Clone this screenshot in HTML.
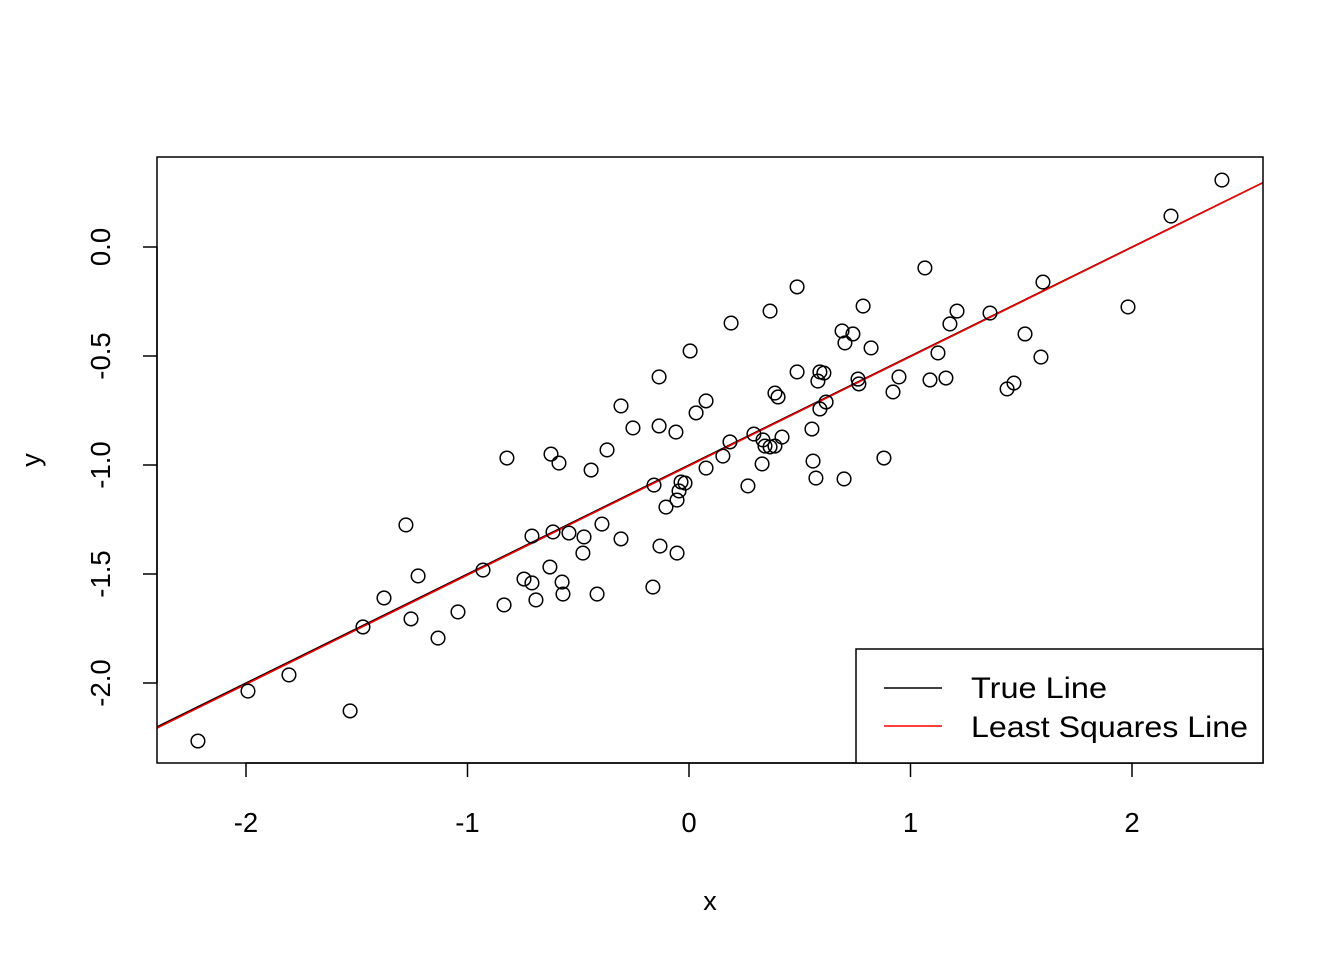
<!DOCTYPE html>
<html><head><meta charset="utf-8"><style>
html,body{margin:0;padding:0;background:#fff}
svg{display:block;font-family:"Liberation Sans",Arial,sans-serif}
</style></head><body>
<svg id="chart" width="1344" height="960" viewBox="0 0 1344 960" xmlns="http://www.w3.org/2000/svg">
<defs><clipPath id="plotclip"><rect x="157" y="157" width="1106" height="606"/></clipPath></defs>
<rect width="1344" height="960" fill="#fff"/>
<g id="axes"></g>
<g id="lines" clip-path="url(#plotclip)"></g>
<g id="points"></g>
<rect x="157" y="157" width="1106" height="606" fill="none" stroke="#000" stroke-width="1.5"/>
<text x="710" y="910" font-size="27" text-anchor="middle">x</text>
<text transform="translate(40,460) rotate(-90)" font-size="27" text-anchor="middle">y</text>
<g>
<rect x="856" y="649" width="407" height="114" fill="#fff" stroke="#000" stroke-width="1.5"/>
<line x1="884" y1="688" x2="942" y2="688" stroke="#000" stroke-width="1.5"/>
<text x="971" y="698" font-size="30" textLength="136" lengthAdjust="spacingAndGlyphs">True Line</text>
<line x1="884" y1="726" x2="942" y2="726" stroke="#f00" stroke-width="1.5"/>
<text x="971" y="737" font-size="30" textLength="277" lengthAdjust="spacingAndGlyphs">Least Squares Line</text>
</g>
</svg>
<script>
const xVals=[2.406,2.176,1.598,1.982,1.065,1.210,1.178,1.359,1.517,1.589,1.436,1.467,1.160,1.124,1.088,0.786,0.691,0.740,0.704,0.822,0.488,0.366,0.190,0.005,-0.135,-0.307,-0.253,-0.135,-0.059,0.032,0.077,0.388,0.402,0.591,0.609,0.582,0.488,0.763,0.767,0.948,0.921,0.619,0.591,0.555,0.420,0.293,0.334,0.185,0.388,0.366,0.343,0.153,0.077,0.330,0.560,0.573,0.700,0.880,0.266,-0.018,-0.036,-0.045,-0.054,-0.104,-0.158,-0.370,-0.442,-0.587,-0.623,-0.822,-0.131,-0.054,-0.307,-0.393,-0.474,-0.479,-0.542,-0.614,-0.709,-0.930,-0.628,-0.745,-0.709,-0.573,-0.569,-0.415,-0.691,-0.163,-0.835,-1.043,-1.133,-1.223,-1.255,-1.278,-1.377,-1.472,-1.806,-1.991,-1.530,-2.217];
const yVals=[0.307,0.142,-0.161,-0.275,-0.096,-0.294,-0.353,-0.303,-0.399,-0.505,-0.651,-0.624,-0.601,-0.486,-0.610,-0.271,-0.385,-0.399,-0.440,-0.463,-0.183,-0.294,-0.349,-0.477,-0.596,-0.729,-0.830,-0.821,-0.849,-0.761,-0.706,-0.670,-0.688,-0.573,-0.578,-0.615,-0.573,-0.606,-0.628,-0.596,-0.665,-0.711,-0.743,-0.835,-0.872,-0.858,-0.885,-0.894,-0.913,-0.917,-0.913,-0.959,-1.014,-0.995,-0.982,-1.060,-1.064,-0.968,-1.096,-1.083,-1.078,-1.119,-1.161,-1.193,-1.092,-0.931,-1.023,-0.991,-0.950,-0.968,-1.372,-1.404,-1.339,-1.271,-1.330,-1.404,-1.312,-1.307,-1.326,-1.482,-1.468,-1.523,-1.541,-1.537,-1.592,-1.592,-1.619,-1.560,-1.642,-1.674,-1.794,-1.509,-1.706,-1.275,-1.610,-1.743,-1.963,-2.037,-2.128,-2.266];
const xTicks=[-2,-1,0,1,2];
const yTicks=[-2.0,-1.5,-1.0,-0.5,0.0];
const trueLine=[-1,0.5];
const lsLine=[-1.004,0.501];
const xDomain=[-2.5,2.7];

const NS="http://www.w3.org/2000/svg";
const sx=v=>689+v*221.5;
const sy=v=>247-v*218;
function mk(tag,attrs,parent){const e=document.createElementNS(NS,tag);for(const k in attrs)e.setAttribute(k,attrs[k]);parent.appendChild(e);return e;}
const axes=document.getElementById('axes');
mk('line',{x1:sx(-2),y1:763,x2:sx(2),y2:763,stroke:'#000','stroke-width':1.5},axes);
xTicks.forEach(t=>{
  const l=mk('line',{x1:sx(t),y1:763,x2:sx(t),y2:777,stroke:'#000','stroke-width':1.5},axes);
  
  
  const tx=mk('text',{x:sx(t),y:832,'font-size':27.5,'text-anchor':'middle'},axes);
  tx.textContent=String(t);
  
  
});
mk('line',{x1:157,y1:sy(-2),x2:157,y2:sy(0),stroke:'#000','stroke-width':1.5},axes);
yTicks.forEach(t=>{
  const l=mk('line',{x1:143,y1:sy(t),x2:157,y2:sy(t),stroke:'#000','stroke-width':1.5},axes);
  
  
  const tx=mk('text',{transform:`translate(110,${sy(t)}) rotate(-90)`,'font-size':27.5,'text-anchor':'middle'},axes);
  tx.textContent=t.toFixed(1);
  
  
});
const lines=document.getElementById('lines');
[[trueLine,'#000','true-line'],[lsLine,'#f00','least-squares-line']].forEach(([c,col,nm])=>{
  const l=mk('line',{x1:sx(xDomain[0]),y1:sy(c[0]+c[1]*xDomain[0]),x2:sx(xDomain[1]),y2:sy(c[0]+c[1]*xDomain[1]),stroke:col,'stroke-width':1.5},lines);
  
  
});
const pts=document.getElementById('points');
xVals.forEach((x,i)=>{
  const c=mk('circle',{cx:sx(x),cy:sy(yVals[i]),r:6.8,fill:'none',stroke:'#000','stroke-width':1.5},pts);
  
  
});
</script>
</body></html>
